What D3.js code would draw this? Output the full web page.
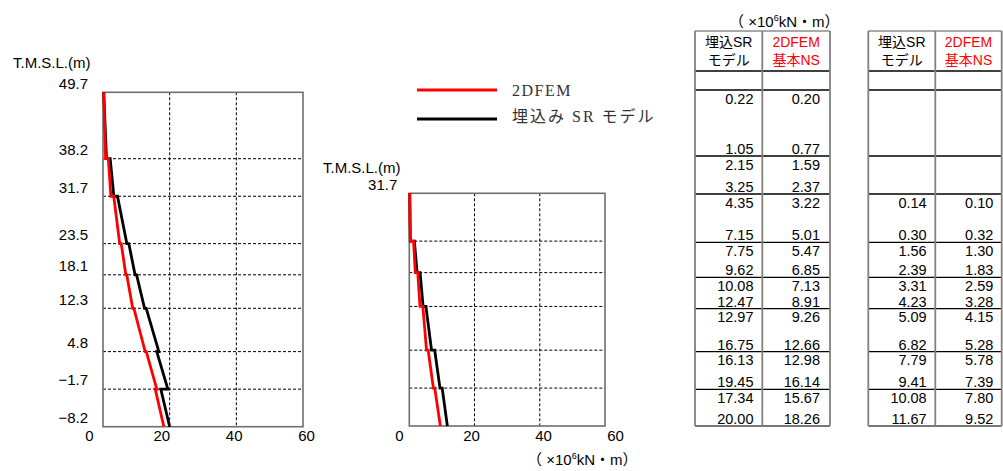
<!DOCTYPE html>
<html><head><meta charset="utf-8">
<script src="https://cdn.jsdelivr.net/npm/d3@7"></script>
<style>body{margin:0;background:#fff}svg{display:block}</style>
</head><body><svg id="c" width="1003" height="471"></svg>
<script>
// ---- data ----
const levels = [49.7, 38.2, 31.7, 23.5, 18.1, 12.3, 4.8, -1.7, -8.2];
// case 1 (left chart / left table): values at top and bottom of each segment
const srTop  = [0.22, 2.15, 4.35, 7.75, 10.08, 12.97, 16.13, 17.34];
const srBot  = [1.05, 3.25, 7.15, 9.62, 12.47, 16.75, 19.45, 20.00];
const femTop = [0.20, 1.59, 3.22, 5.47, 7.13, 9.26, 12.98, 15.67];
const femBot = [0.77, 2.37, 5.01, 6.85, 8.91, 12.66, 16.14, 18.26];
// case 2 (middle chart / right table)
const sr2Top  = [null, null, 0.14, 1.56, 3.31, 5.09, 7.79, 10.08];
const sr2Bot  = [null, null, 0.30, 2.39, 4.23, 6.82, 9.41, 11.67];
const fem2Top = [null, null, 0.10, 1.30, 2.59, 4.15, 5.78, 7.80];
const fem2Bot = [null, null, 0.32, 1.83, 3.28, 5.28, 7.39, 9.52];
const xTicks = [0, 20, 40, 60];
const yAxisTitle = "T.M.S.L.(m)";
const legendLabels = ["2DFEM", "埋込み SR モデル"];
const headSR = ["埋込SR", "モデル"];
const headFEM = ["2DFEM", "基本NS"];

const RED = "#ff0000", BLK = "#000000";
const SANS = "'Liberation Sans', Arial, 'Noto Sans CJK JP', sans-serif";
const svg = d3.select("#c");

function segPoints(top, bot) {
  const pts = [];
  for (let i = 0; i < top.length; i++) {
    if (top[i] == null) continue;
    pts.push([top[i], levels[i]]);
    pts.push([bot[i], levels[i + 1]]);
  }
  return pts;
}

function drawChart(cfg) {
  const {x, y, xl, gridLevels, yTickVals, series, titlePos} = cfg;
  const g = svg.append("g");
  const [x0, x1] = x.range(), [y0, y1] = y.range();
  // grid
  g.selectAll(".vg").data(xTicks.slice(1, -1)).join("line")
    .attr("x1", d => x(d)).attr("x2", d => x(d)).attr("y1", y0).attr("y2", y1)
    .attr("stroke", "#000").attr("stroke-width", 1).attr("stroke-dasharray", "3,2");
  g.selectAll(".hg").data(gridLevels).join("line")
    .attr("x1", x0).attr("x2", x1).attr("y1", d => y(d)).attr("y2", d => y(d))
    .attr("stroke", "#000").attr("stroke-width", 1).attr("stroke-dasharray", "3,2");
  // frame
  g.append("rect").attr("x", x0).attr("y", y0).attr("width", x1 - x0).attr("height", y1 - y0)
    .attr("fill", "none").attr("stroke", "#6e6e6e").attr("stroke-width", 1.6);
  // lines
  const line = d3.line().x(d => x(d[0])).y(d => y(d[1]));
  series.forEach(s => {
    g.append("path").attr("d", line(segPoints(s.top, s.bot)))
      .attr("fill", "none").attr("stroke", s.color).attr("stroke-width", 2.8)
      .attr("stroke-linejoin", "miter");
  });
  // x axis labels
  const ax = g.append("g").attr("transform", `translate(0,${y1})`)
    .call(d3.axisBottom(xl).tickValues(xTicks).tickSize(0).tickPadding(4).tickFormat(d3.format("d")));
  ax.select(".domain").remove();
  ax.selectAll("text").attr("font-family", SANS).attr("font-size", 15).attr("fill", "#000");
  // y axis labels
  const ay = g.append("g").attr("transform", `translate(${x0},0)`)
    .call(d3.axisLeft(y).tickValues(yTickVals).tickSize(0).tickPadding(cfg.pad).tickFormat(d3.format(".1f")));
  ay.select(".domain").remove();
  ay.selectAll("text").attr("font-family", SANS).attr("font-size", 15).attr("fill", "#000")
    .attr("transform", "translate(0,-9)");
  g.append("text").attr("x", titlePos[0]).attr("y", titlePos[1]).text(yAxisTitle)
    .attr("font-family", SANS).attr("font-size", 15).attr("fill", "#000").attr("dy", "0.35em");
}

// left chart
const xL = d3.scaleLinear().domain([0, 60]).range([103, 303]);
const yL = d3.scaleLinear().domain([49.7, -8.2]).range([92.3, 426.7]);
drawChart({
  x: xL, y: yL, xl: d3.scaleLinear().domain([0, 60]).range([89, 306]),
  gridLevels: levels.slice(1, -1), yTickVals: levels, pad: 15,
  series: [{top: srTop, bot: srBot, color: BLK}, {top: femTop, bot: femBot, color: RED}],
  titlePos: [13, 63]
});
// middle chart
const xM = d3.scaleLinear().domain([0, 60]).range([409.3, 605]);
const yM = d3.scaleLinear().domain([31.7, -8.2]).range([193.3, 426]);
drawChart({
  x: xM, y: yM, xl: d3.scaleLinear().domain([0, 60]).range([399, 615]),
  gridLevels: levels.slice(3, -1), yTickVals: [31.7], pad: 12,
  series: [{top: sr2Top, bot: sr2Bot, color: BLK}, {top: fem2Top, bot: fem2Bot, color: RED}],
  titlePos: [323, 168]
});

// unit labels
function unitLabel(xp, yp) {
  const t = svg.append("text").attr("x", xp).attr("y", yp).attr("dy", "0.35em")
    .attr("font-family", SANS).attr("font-size", 15).attr("fill", "#000");
  t.append("tspan").text("（ ×10");
  t.append("tspan").text("6").attr("font-size", 9).attr("dy", -6);
  t.append("tspan").text("kN・m）").attr("dy", 6);
}
unitLabel(527, 460);
unitLabel(729, 22);

// legend
const legend = svg.append("g");
legendLabels.forEach((lab, i) => {
  const ly = [90, 119][i];
  legend.append("line").attr("x1", 417).attr("x2", 497).attr("y1", ly).attr("y2", ly)
    .attr("stroke", i === 0 ? RED : BLK).attr("stroke-width", 3);
  legend.append("text").attr("x", 512).attr("y", [90, 116][i]).attr("dy", "0.35em").text(lab)
    .attr("font-family", "'Liberation Serif', 'Noto Sans CJK JP', serif").attr("font-size", 16)
    .attr("letter-spacing", i === 0 ? 1.5 : 2).attr("fill", "#333");
});

// tables (row borders follow the same levels as the charts)
const yT = d3.scaleLinear().domain(levels).range([90, 156, 194, 242.3, 277.3, 308.7, 351.7, 389.3, 426]);
function drawTable(cfg) {
  const {xa, xb, xc, top, bot, r1, r2} = cfg;
  const g = svg.append("g");
  const yTop = 31, yHead = 71, yBlank = 90;
  const ys = [yHead, yBlank].concat(levels.slice(1, -1).map(yT));
  g.selectAll(".hl").data(ys).join("line")
    .attr("x1", xa).attr("x2", xc).attr("y1", d => d).attr("y2", d => d)
    .attr("stroke", "#000").attr("stroke-width", 1.3);
  g.append("line").attr("x1", xa).attr("x2", xc).attr("y1", yTop).attr("y2", yTop)
    .attr("stroke", "#555").attr("stroke-width", 1.2);
  g.append("line").attr("x1", xa).attr("x2", xc).attr("y1", yT(-8.2)).attr("y2", yT(-8.2))
    .attr("stroke", "#777").attr("stroke-width", 2.2);
  g.selectAll(".vl").data([xa, xb, xc]).join("line")
    .attr("x1", d => d).attr("x2", d => d).attr("y1", yTop).attr("y2", yT(-8.2))
    .attr("stroke", "#808080").attr("stroke-width", 1.8);
  // headers
  [[headSR, (xa + xb) / 2, "#000"], [headFEM, (xb + xc) / 2, RED]].forEach(([lines, cx, col]) => {
    lines.forEach((s, i) => g.append("text").attr("x", cx).attr("y", [42, 60][i]).attr("dy", "0.35em")
      .attr("text-anchor", "middle").text(s).attr("font-family", SANS).attr("font-size", 14).attr("fill", col));
  });
  // values
  const cols = [[top.sr, bot.sr, r1], [top.fem, bot.fem, r2]];
  cols.forEach(([tv, bv, rx]) => {
    tv.forEach((v, i) => {
      if (v == null) return;
      g.append("text").attr("x", rx).attr("y", yT(levels[i]) + 8.5).attr("dy", "0.35em")
        .attr("text-anchor", "end").text(v.toFixed(2))
        .attr("font-family", SANS).attr("font-size", 14.5).attr("fill", "#000");
      g.append("text").attr("x", rx).attr("y", yT(levels[i + 1]) - 7).attr("dy", "0.35em")
        .attr("text-anchor", "end").text(bv[i].toFixed(2))
        .attr("font-family", SANS).attr("font-size", 14.5).attr("fill", "#000");
    });
  });
}
drawTable({xa: 695, xb: 762.3, xc: 830, r1: 753.5, r2: 820,
  top: {sr: srTop, fem: femTop}, bot: {sr: srBot, fem: femBot}});
drawTable({xa: 868.3, xb: 935.3, xc: 1001.7, r1: 926.7, r2: 993.3,
  top: {sr: sr2Top, fem: fem2Top}, bot: {sr: sr2Bot, fem: fem2Bot}});
</script>
</body></html>
